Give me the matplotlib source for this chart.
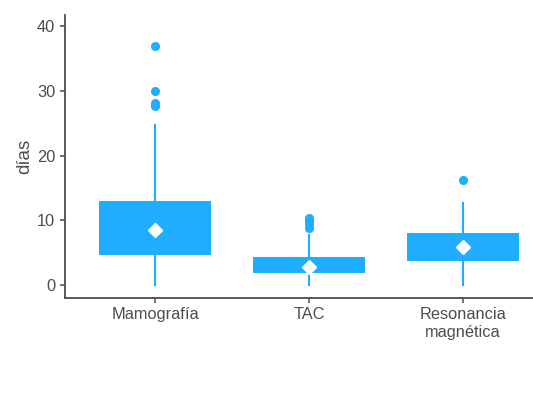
import matplotlib
matplotlib.use('Agg')
import matplotlib.pyplot as plt

plt.rcParams['font.family'] = ['Liberation Sans', 'DejaVu Sans']

# waiting time in days per imaging test
categorias = ['Mamografía', 'TAC', 'Resonancia\nmagnética']
q1 = [4.6, 1.8, 3.7]
mediana = [7.5, 2.6, 5.5]
q3 = [13.0, 4.3, 8.1]
bigote_inf = [0.0, 0.0, 0.0]
bigote_sup = [24.7, 7.7, 12.7]
media = [8.5, 2.8, 5.9]
atipicos = [
    [37.0, 30.0, 28.1, 27.6],
    [10.4, 9.9, 9.4, 8.8],
    [16.2],
]

azul = '#1FADFF'
gris = '#4d4d4d'

stats = []
for i, nombre in enumerate(categorias):
    stats.append(dict(label=nombre, q1=q1[i], med=mediana[i], q3=q3[i],
                      whislo=bigote_inf[i], whishi=bigote_sup[i],
                      mean=media[i], fliers=atipicos[i]))

fig = plt.figure(figsize=(5.33, 3.99), dpi=100)
ax = fig.add_axes([0.122, 0.254, 0.878, 0.708])

ax.bxp(stats, positions=[1, 2, 3], widths=0.73, patch_artist=True,
       showmeans=True, showcaps=False,
       boxprops=dict(facecolor=azul, edgecolor=azul, linewidth=0),
       medianprops=dict(color=azul, linewidth=0),
       whiskerprops=dict(color=azul, linewidth=1.5),
       flierprops=dict(marker='o', markerfacecolor=azul, markeredgecolor=azul,
                       markersize=5.5),
       meanprops=dict(marker='D', markerfacecolor='white', markeredgecolor='white',
                      markersize=7.5))

ax.set_xlim(0.416, 3.455)
ax.set_ylim(-1.96, 41.7)
ax.set_yticks([0, 10, 20, 30, 40])
ax.set_ylabel('días', fontsize=13.5, color=gris, labelpad=3)

for lado in ['top', 'right']:
    ax.spines[lado].set_visible(False)
for lado in ['left', 'bottom']:
    ax.spines[lado].set_color(gris)
    ax.spines[lado].set_linewidth(1.3)
ax.tick_params(colors=gris, labelsize=11.8, length=3.5, width=1.1)

fig.savefig('out.png', dpi=100)
